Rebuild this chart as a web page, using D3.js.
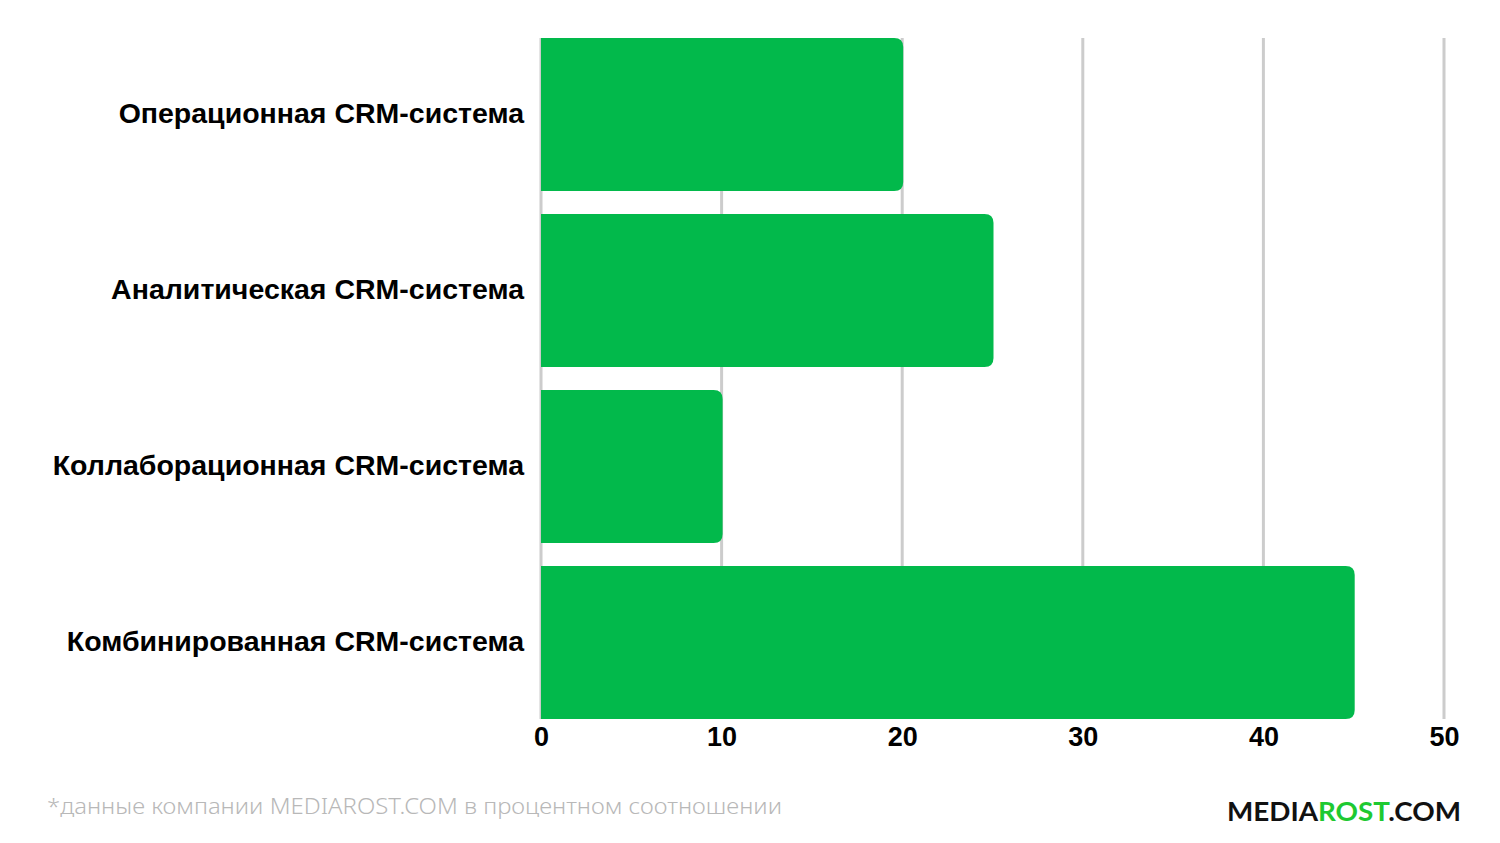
<!DOCTYPE html>
<html><head><meta charset="utf-8">
<script src="https://cdn.jsdelivr.net/npm/d3@7"></script>
<style>body{margin:0;background:#fff}svg{display:block}</style>
</head><body>
<svg id="c" width="1500" height="843"></svg>
<script>
const categories = ["Операционная CRM-система","Аналитическая CRM-система","Коллаборационная CRM-система","Комбинированная CRM-система"];
const values = [20, 25, 10, 45];
const tickValues = [0, 10, 20, 30, 40, 50];
const footnote = "*данные компании MEDIAROST.COM в процентном соотношении";

const svg = d3.select("#c");
const x = d3.scaleLinear().domain([0, 50]).range([541, 1444]);
const y = d3.scaleBand().domain(categories).range([38, 719]).paddingInner(0.131).paddingOuter(0);

// grid
svg.append("g").selectAll("line").data(tickValues).join("line")
  .attr("x1", d => x(d)).attr("x2", d => x(d))
  .attr("y1", 38).attr("y2", 719)
  .attr("stroke", "#cccccc").attr("stroke-width", 3);

// bars with right rounded corners
const r = 9;
svg.append("g").selectAll("path").data(values).join("path")
  .attr("fill", "#02b94b")
  .attr("d", (d, i) => {
    const x0 = x(0), x1 = x(d) + 1, y0 = y(categories[i]), h = y.bandwidth();
    return `M${x0},${y0}H${x1 - r}Q${x1},${y0} ${x1},${y0 + r}V${y0 + h - r}Q${x1},${y0 + h} ${x1 - r},${y0 + h}H${x0}Z`;
  });

// category labels
svg.append("g").selectAll("text").data(categories).join("text")
  .attr("x", 524).attr("y", d => y(d) + y.bandwidth() / 2 - 1)
  .attr("dy", "0.35em").attr("text-anchor", "end")
  .attr("font-family", "Liberation Sans, Arial, sans-serif").attr("font-weight", 700)
  .attr("font-size", 28.5).attr("fill", "#000")
  .text(d => d);

// x axis labels
const xAxis = d3.axisBottom(x).tickValues(tickValues).tickSize(0).tickPadding(0);
const gx = svg.append("g").attr("transform", "translate(0,727)").call(xAxis);
gx.select(".domain").remove();
gx.selectAll("text").attr("font-family", "Liberation Sans, Arial, sans-serif")
  .attr("font-weight", 700).attr("font-size", 27).attr("fill", "#000").attr("dy", "0.71em");

// footnote
svg.append("text").attr("x", 47).attr("y", 814)
  .attr("font-family", "Noto Sans, sans-serif").attr("font-weight", 300)
  .attr("font-size", 21).attr("fill", "#b8b8b8")
  .attr("textLength", 735).attr("lengthAdjust", "spacingAndGlyphs")
  .text(footnote);

// logo
const logo = svg.append("text").attr("x", 1227).attr("y", 821)
  .attr("font-family", "Lato, sans-serif").attr("font-weight", 700)
  .attr("font-size", 27).attr("fill", "#111")
  .attr("textLength", 234).attr("lengthAdjust", "spacingAndGlyphs");
logo.append("tspan").text("MEDIA");
logo.append("tspan").attr("fill", "#1ec931").text("ROST");
logo.append("tspan").text(".COM");
</script>
</body></html>
